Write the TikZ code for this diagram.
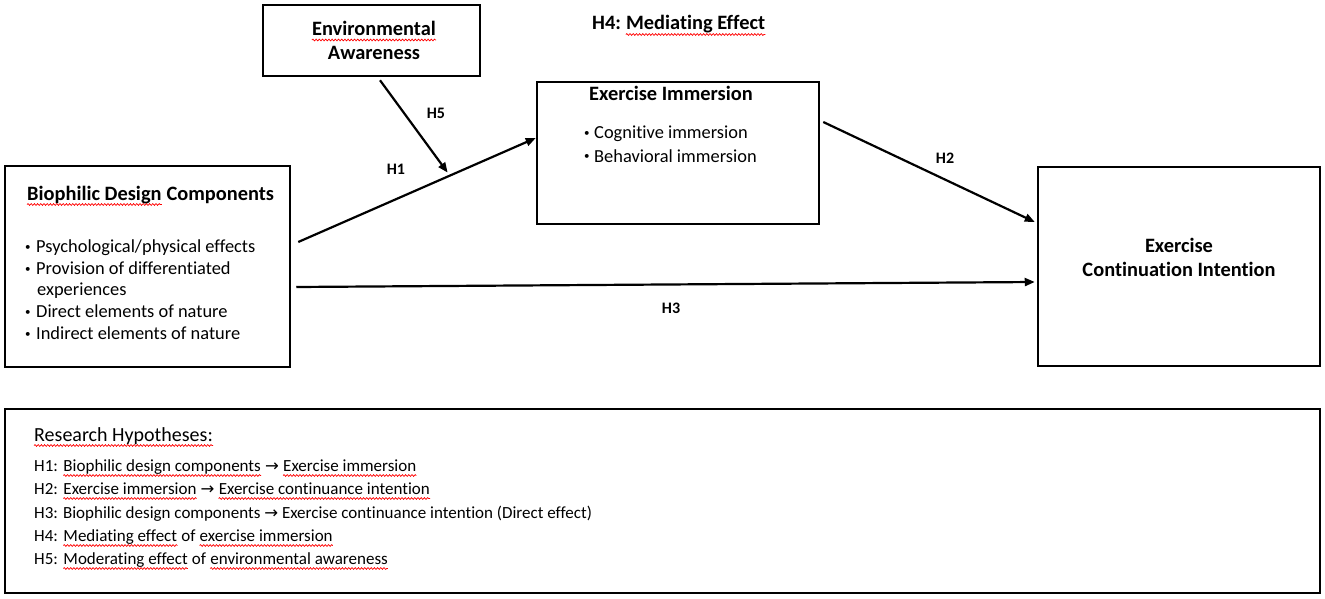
\documentclass[tikz,border=0pt]{standalone}
\usepackage{fontspec}
\setmainfont{Carlito}[Ligatures=NoCommon]
\newfontfamily\djv{DejaVu Sans}
\usetikzlibrary{arrows.meta,calc,decorations.pathmorphing}
\newcommand\bul[1][12pt]{\makebox[#1][l]{\hspace*{1pt}{\fontsize{11}{11}\selectfont\raisebox{2pt}{•}}}}
\newcommand\rarr{{\djv\fontsize{16.5}{16.5}\selectfont →}}
\newcommand\squig[1]{\draw[sq] ([yshift=-4.5pt]#1.base west) -- ([yshift=-4.5pt]#1.base east);}
\begin{document}
\begin{tikzpicture}[x=1pt,y=-1pt,
  box/.style={draw,line width=2.5pt,inner sep=0pt},
  conn/.style={line width=2.2pt,-{Triangle[length=10pt,width=8pt]}},
  ttl/.style={font=\fontsize{20.4}{24}\selectfont\bfseries,inner sep=0pt,align=center},
  body/.style={font=\fontsize{18.4}{22}\selectfont,inner sep=0pt,anchor=base west},
  lbl/.style={font=\fontsize{16}{19}\selectfont\bfseries,inner sep=0pt},
  hyp/.style={font=\fontsize{17}{21}\selectfont,inner sep=0pt,anchor=base west},
  sq/.style={red,line width=0.7pt,decorate,decoration={snake,amplitude=0.9pt,segment length=3.2pt}}]
\useasboundingbox (0,0) rectangle (1325,599);
\fill[white] (0,0) rectangle (1325,599);

% boxes
\node[box,minimum width=217pt,minimum height=71pt] (ea) at (371.5,40.5) {};
\node[box,minimum width=285pt,minimum height=201pt] (bio) at (147.5,266.5) {};
\node[box,minimum width=282pt,minimum height=142pt] (imm) at (678,153) {};
\node[box,minimum width=282pt,minimum height=199pt] (cont) at (1179,266.5) {};
\node[box,line width=2pt,minimum width=1315pt,minimum height=184pt] (hyp) at (662.5,501) {};

% Environmental awareness text
\node[ttl,anchor=base] (eat1) at (374,35.5) {Environmental};
\node[ttl,anchor=base] (eat2) at (374,59.5) {Awareness};
\squig{eat1}

% Biophilic contents
\node[ttl,anchor=base west] (biot1) at (27,200) {Biophilic Design};
\node[ttl,anchor=base west] (biot2) at (biot1.base east) {\mbox{} Components};
\squig{biot1}
\node[body] (b1) at (24,252) {\bul Psychological/physical effects};
\node[body] (b2) at (24,274) {\bul Provision of differentiated};
\node[body] (b3) at (37,295) {experiences};
\node[body] (b4) at (24,317) {\bul Direct elements of nature};
\node[body] (b5) at (24,339) {\bul Indirect elements of nature};

% Immersion contents
\node[ttl,anchor=base] (immt) at (671,101) {Exercise Immersion};
\node[body] (i1) at (583,139) {\bul[11pt]Cognitive immersion};
\node[body] (i2) at (583,162) {\bul[11pt]Behavioral immersion};

% Continuation contents
\node[ttl] (contt) at (1179,257) {Exercise\\Continuation Intention};

% H4 title
\node[ttl,anchor=base west] (h4a) at (592,30) {H4:\mbox{}};
\node[ttl,anchor=base west] (h4b) at ([xshift=4.6pt]h4a.base east) {Mediating Effect};
\squig{h4b}

% connectors
\coordinate (h1s) at ([shift={(7pt,24.5pt)}]bio.east);
\coordinate (h1e) at ([yshift=15pt]imm.west);
\draw[conn] (h1s) -- (h1e);
\draw[conn] ([shift={(3pt,31pt)}]imm.east) -- ([shift={(-2pt,44.5pt)}]cont.west);
\draw[conn] ([shift={(5pt,-20.5pt)}]bio.east) -- ([shift={(-2pt,-15.5pt)}]cont.west);
\coordinate (h5e) at ([yshift=4pt]$(h1s)!0.629!(h1e)$);
\draw[conn] ([shift={(8.5pt,-3pt)}]ea.south) -- (h5e);

% labels
\node[lbl] (l5) at (436,113) {H5};
\node[lbl] (l1) at (396,169) {H1};
\node[lbl] (l2) at (945,158) {H2};
\node[lbl] (l3) at (671,308) {H3};

% hypotheses
\node[font=\fontsize{20}{24}\selectfont,inner sep=0pt,anchor=base west] (rh) at (34,441) {Research Hypotheses:};
\squig{rh}
\node[hyp] (t1a) at (34,471) {H1: \mbox{}};
\node[hyp] (t1b) at (t1a.base east) {Biophilic design components};
\node[hyp] (t1c) at (t1b.base east) {\mbox{} \rarr{} \mbox{}};
\node[hyp] (t1d) at (t1c.base east) {Exercise immersion};
\squig{t1b}\squig{t1d}
\node[hyp] (t2a) at (34,494) {H2: \mbox{}};
\node[hyp] (t2b) at (t2a.base east) {Exercise immersion};
\node[hyp] (t2c) at (t2b.base east) {\mbox{} \rarr{} \mbox{}};
\node[hyp] (t2d) at (t2c.base east) {Exercise continuance intention};
\squig{t2b}\squig{t2d}
\node[hyp] (t3) at (34,518) {H3: Biophilic design components \rarr{} Exercise continuance intention (Direct effect)};
\node[hyp] (t4a) at (34,541) {H4: \mbox{}};
\node[hyp] (t4b) at (t4a.base east) {Mediating effect};
\node[hyp] (t4c) at (t4b.base east) {\mbox{} of \mbox{}};
\node[hyp] (t4d) at (t4c.base east) {exercise immersion};
\squig{t4b}\squig{t4d}
\node[hyp] (t5a) at (34,564) {H5: \mbox{}};
\node[hyp] (t5b) at (t5a.base east) {Moderating effect};
\node[hyp] (t5c) at (t5b.base east) {\mbox{} of \mbox{}};
\node[hyp] (t5d) at (t5c.base east) {environmental awareness};
\squig{t5b}\squig{t5d}
\end{tikzpicture}
\end{document}
